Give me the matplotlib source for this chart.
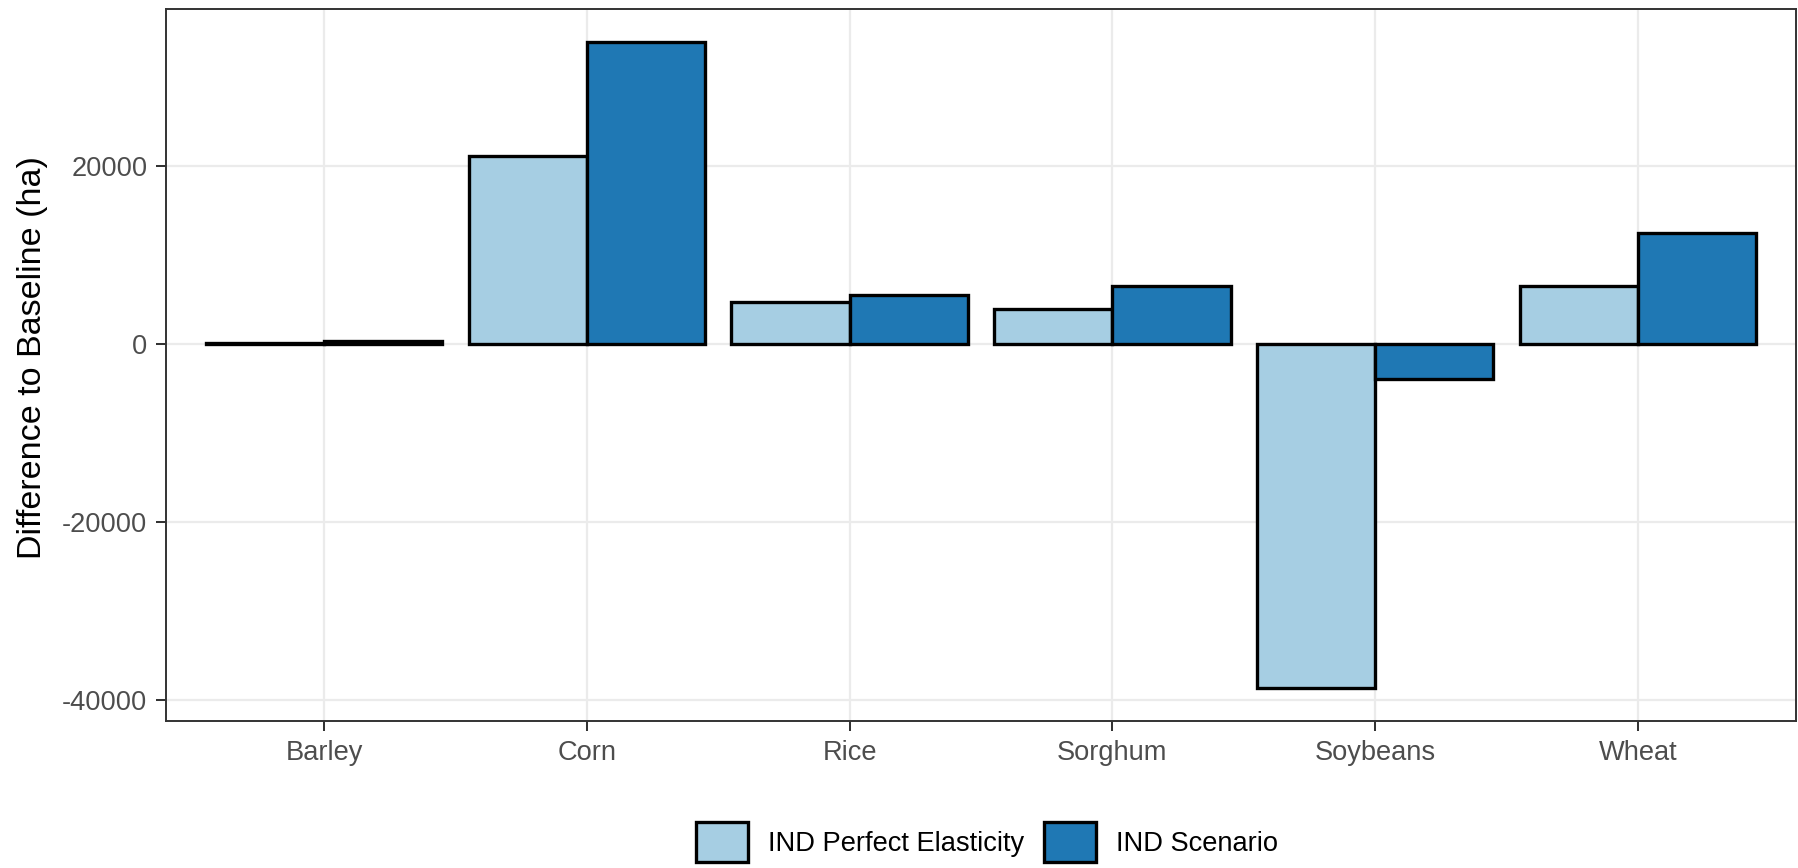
import matplotlib
matplotlib.use("Agg")
import matplotlib.pyplot as plt
from matplotlib.patches import Patch
import numpy as np

plt.rcParams['font.family'] = ['Liberation Sans', 'DejaVu Sans']

categories = ["Barley", "Corn", "Rice", "Sorghum", "Soybeans", "Wheat"]
series_names = ["IND Perfect Elasticity", "IND Scenario"]
elasticity = [110, 21100, 4650, 3900, -38700, 6450]
scenario = [270, 33950, 5500, 6500, -4000, 12450]
yticks = [-40000, -20000, 0, 20000]
colors = ["#A6CEE3", "#1F78B4"]

W, H = 1799, 868
fig = plt.figure(figsize=(W / 100, H / 100), dpi=100)
ax = fig.add_axes([166.4 / W, 1 - 720.5 / H, (1795.5 - 166.4) / W, (720.5 - 9.2) / H])

x = np.arange(1, len(categories) + 1)
bw = 0.45
lw = 2.4
ax.bar(x - bw / 2, elasticity, width=bw, color=colors[0], edgecolor="black", linewidth=lw, zorder=3)
ax.bar(x + bw / 2, scenario, width=bw, color=colors[1], edgecolor="black", linewidth=lw, zorder=3)

allv = elasticity + scenario + [0]
lo, hi = min(allv), max(allv)
r = hi - lo
ax.set_ylim(lo - 0.05 * r, hi + 0.05 * r)
ax.set_xlim(0.4, len(categories) + 0.6)

ax.set_xticks(x)
ax.set_xticklabels(categories)
ax.set_yticks(yticks)
ax.set_yticklabels([str(v) for v in yticks])

ax.grid(True, color="#EBEBEB", linewidth=1.6, zorder=0)
ax.set_axisbelow(True)
for s in ax.spines.values():
    s.set_color("#333333")
    s.set_linewidth(1.4)
    s.set_zorder(5)

ax.tick_params(axis="both", colors="#333333", labelcolor="#4D4D4D", labelsize=19.6,
               length=7, width=1.45)
ax.tick_params(axis="y", pad=6.7)
ax.tick_params(axis="x", pad=7.0)

fig.text(33 / W, 1 - 357.5 / H, "Difference to Baseline (ha)", rotation=90,
         ha="center", va="center", fontsize=24.5, color="black")

handles = [Patch(facecolor=colors[i], edgecolor="black", linewidth=lw) for i in range(2)]
fig.legend(handles, series_names, loc="center", bbox_to_anchor=(987 / W, 1 - 842 / H),
           ncol=2, frameon=False, fontsize=19.6, handlelength=1.91, handleheight=1.91,
           handletextpad=0.74, columnspacing=0.75, borderpad=0, borderaxespad=0)

fig.savefig("out.png", dpi=100)
